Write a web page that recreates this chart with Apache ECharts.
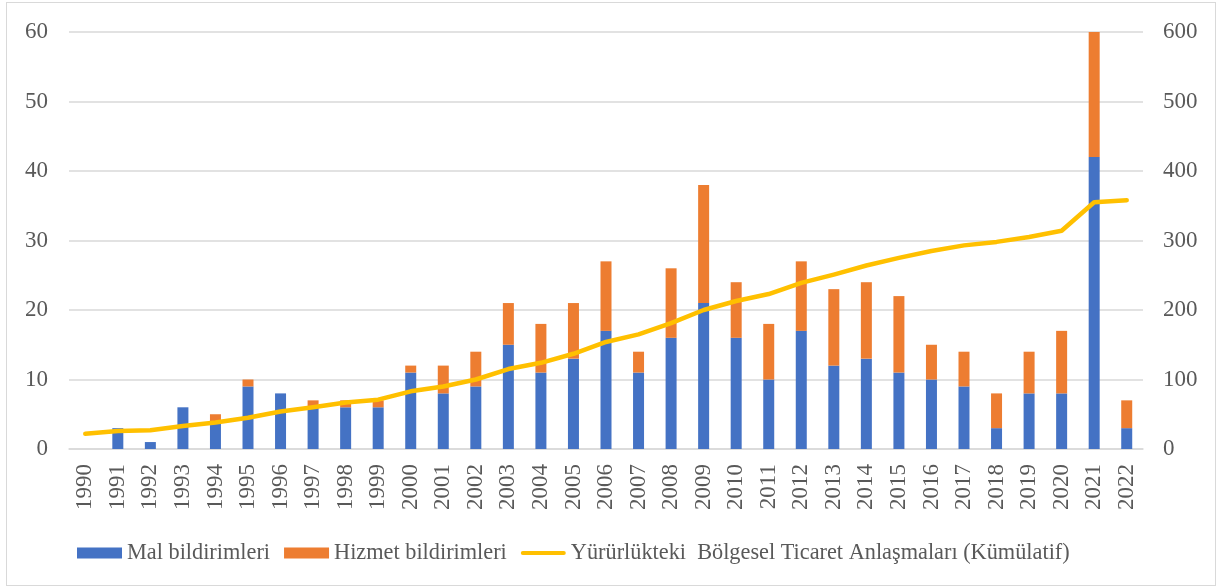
<!DOCTYPE html>
<html lang="tr">
<head>
    <meta charset="UTF-8">
    <script src="https://cdn.jsdelivr.net/npm/echarts@6/dist/echarts.min.js"></script>
    <title>Bildirimler</title>
    <style>
        html, body { margin: 0; padding: 0; background: #fff; }
        #frame { position: absolute; left: 6px; top: 2px; width: 1210px; height: 584px; box-sizing: border-box; border: 1px solid #d9d9d9; }
        #main { position: absolute; left: 0; top: 0; width: 1217px; height: 588px; }
    </style>
</head>
<body>
<div id="frame"></div>
<div id="main"></div>
<script type="text/javascript">
    // yıllar
    var years = ['1990','1991','1992','1993','1994','1995','1996','1997','1998','1999',
        '2000','2001','2002','2003','2004','2005','2006','2007','2008','2009',
        '2010','2011','2012','2013','2014','2015','2016','2017','2018','2019',
        '2020','2021','2022'];
    // mal bildirimleri
    var malData = [0, 3, 1, 6, 4, 9, 8, 6, 6, 6,
        11, 8, 9, 15, 11, 13, 17, 11, 16, 21,
        16, 10, 17, 12, 13, 11, 10, 9, 3, 8,
        8, 42, 3];
    // hizmet bildirimleri
    var hizmetData = [0, 0, 0, 0, 1, 1, 0, 1, 1, 1,
        1, 4, 5, 6, 7, 8, 10, 3, 10, 17,
        8, 8, 10, 11, 11, 11, 5, 5, 5, 6,
        9, 18, 4];
    // kümülatif anlaşmalar (sağ eksen)
    var btaData = [22, 26, 27, 33, 38, 45, 54, 60, 67, 71,
        83, 90, 100, 115, 124, 137, 154, 165, 181, 200,
        213, 223, 239, 251, 264, 275, 285, 293, 298, 305,
        314, 355, 358];

    var font = 'Liberation Serif, Times New Roman, serif';
    var myChart = echarts.init(document.getElementById('main'));

    var option = {
        animation: false,
        textStyle: { fontFamily: font },
        grid: { left: 69, right: 74, top: 32, bottom: 139 },
        legend: {
            left: 72,
            top: 537,
            itemWidth: 45,
            itemHeight: 11,
            itemGap: 14,
            textStyle: { fontFamily: font, fontSize: 22.3, color: '#595959' },
            data: [
                { name: 'Mal bildirimleri', icon: 'rect' },
                { name: 'Hizmet bildirimleri', icon: 'rect' },
                { name: 'Yürürlükteki  Bölgesel Ticaret Anlaşmaları (Kümülatif)', icon: 'path://M2,0 L43,0 A2,2 0 0 1 43,4 L2,4 A2,2 0 0 1 2,0 Z' }
            ]
        },
        xAxis: {
            type: 'category',
            data: years,
            axisLine: { lineStyle: { color: '#d9d9d9', width: 1.5 } },
            axisTick: { show: false },
            axisLabel: { rotate: 90, fontSize: 23, color: '#595959', fontFamily: font, margin: 15 }
        },
        yAxis: [
            {
                type: 'value',
                min: 0, max: 60, interval: 10,
                axisLabel: { fontSize: 23, color: '#595959', fontFamily: font, margin: 21 },
                splitLine: { lineStyle: { color: '#d9d9d9', width: 1.5 } },
                axisLine: { show: false },
                axisTick: { show: false }
            },
            {
                type: 'value',
                min: 0, max: 600, interval: 100,
                axisLabel: { fontSize: 23, color: '#595959', fontFamily: font, margin: 20 },
                splitLine: { show: false },
                axisLine: { show: false },
                axisTick: { show: false }
            }
        ],
        series: [
            {
                name: 'Mal bildirimleri',
                type: 'bar',
                stack: 'bildirim',
                barWidth: 11,
                itemStyle: { color: '#4472C4' },
                data: malData
            },
            {
                name: 'Hizmet bildirimleri',
                type: 'bar',
                stack: 'bildirim',
                barWidth: 11,
                itemStyle: { color: '#ED7D31' },
                data: hizmetData
            },
            {
                name: 'Yürürlükteki  Bölgesel Ticaret Anlaşmaları (Kümülatif)',
                type: 'line',
                yAxisIndex: 1,
                symbol: 'none',
                lineStyle: { color: '#FFC000', width: 4.5, cap: 'round', join: 'round' },
                itemStyle: { color: '#FFC000' },
                z: 5,
                data: btaData
            }
        ]
    };

    myChart.setOption(option);
</script>
</body>
</html>
